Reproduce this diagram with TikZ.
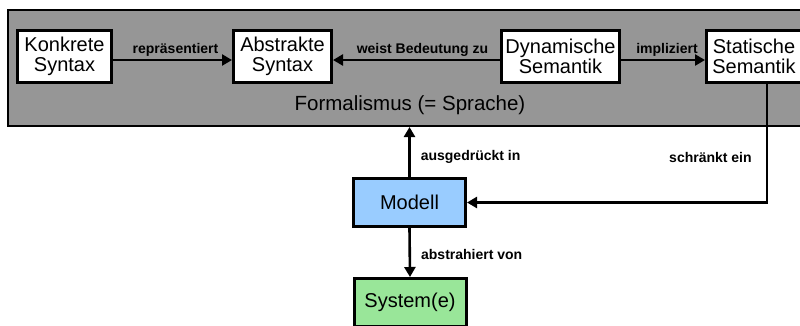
\documentclass[tikz,border=0pt]{standalone}
\usepackage{fontspec}
\setmainfont{Liberation Sans}
\usetikzlibrary{arrows.meta}
\definecolor{formalgray}{HTML}{969696}
\definecolor{modelblue}{HTML}{99CCFF}
\definecolor{systemgreen}{HTML}{99E699}
\tikzset{
  box/.style={draw=black, line width=3pt, fill=white, align=center,
    inner sep=0pt, font=\fontsize{20}{19.5}\selectfont},
  conn/.style={line width=2.6pt, -{Triangle[length=10pt,width=11pt]}},
  lbl/.style={font=\fontsize{14}{14}\selectfont\bfseries, inner sep=0pt}
}
\begin{document}
\begin{tikzpicture}[x=1pt, y=-1pt]
\useasboundingbox (0,0) rectangle (800,325);
\clip (0,0) rectangle (800,325);

% language frame
\node[draw=black, line width=2pt, fill=formalgray, minimum width=804pt,
  minimum height=116pt, inner sep=0pt] (formal) at (410,68) {};
\node[font=\fontsize{20.5}{20}\selectfont, inner sep=0pt] (formaltext) at (410,105.5) {Formalismus (= Sprache)};

% boxes inside the frame
\node[box, minimum width=94pt, minimum height=52pt] (konkret) at (64.5,56.5) {Konkrete\\Syntax};
\node[box, minimum width=98pt, minimum height=52pt] (abstrakt) at (282.5,56.5) {Abstrakte\\Syntax};
\node[box, minimum width=118pt, minimum height=52pt] (dynamisch) at (560.5,56.5) {Dynamische\\Semantik};
\node[box, minimum width=95pt, minimum height=52pt] (statisch) at (754,56.5) {Statische\\Semantik};

% model and systems
\node[box, fill=modelblue, minimum width=112pt, minimum height=48pt] (modell) at (409.5,202.5) {Modell};
\node[box, fill=systemgreen, minimum width=112pt, minimum height=48pt] (system) at (410,302.5) {System(e)};

% relations
\draw[conn] ([yshift=-3.5pt]konkret.east) -- node[lbl, anchor=base, yshift=7pt, xshift=3pt] {repräsentiert} ([yshift=-3.5pt]abstrakt.west);
\draw[conn] ([yshift=-3.5pt]dynamisch.west) -- node[lbl, anchor=base, yshift=7pt, xshift=6pt] {weist Bedeutung zu} ([yshift=-3.5pt]abstrakt.east);
\draw[conn] ([yshift=-3.5pt]dynamisch.east) -- node[lbl, anchor=base, yshift=7pt, xshift=4pt] {impliziert} ([yshift=-3.5pt]statisch.west);
\draw[conn] (modell.north) -- node[lbl, pos=0.33, anchor=base west, xshift=10pt] {ausgedrückt in} (modell.north |- formal.south);
\draw[conn] (modell.south) -- node[lbl, pos=0.65, anchor=base west, xshift=10pt] {abstrahiert von} (system.north);
\draw[conn] ([xshift=13pt]statisch.south) |- node[lbl, pos=0.33, anchor=base east, xshift=-14pt] {schränkt ein} (modell.east);
\end{tikzpicture}
\end{document}
